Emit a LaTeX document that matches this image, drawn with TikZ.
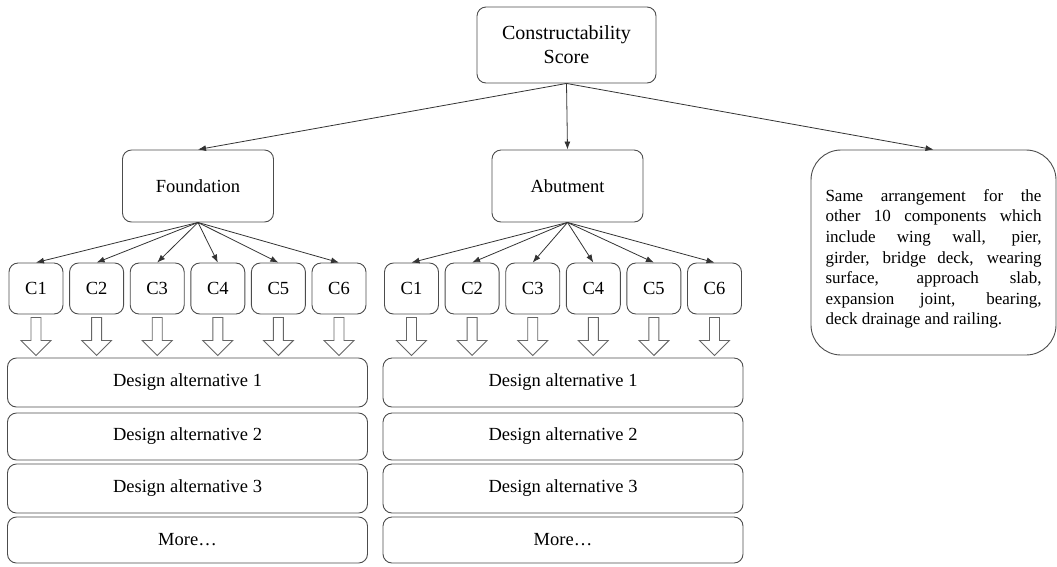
\documentclass[tikz,border=0pt]{standalone}
\usepackage{fontspec}
\setmainfont{Liberation Serif}
\usetikzlibrary{arrows.meta}

\begin{document}
\begin{tikzpicture}[x=1pt,y=1pt,
    box/.style={draw=black!70, line width=0.9pt, rounded corners=9pt, align=center, inner sep=0pt, font=\rmfamily\fontsize{18.5}{22}\selectfont},
    link/.style={draw=black!80, line width=0.8pt, -{Latex[length=8pt,width=6pt]}},
    hollow/.style={draw=black!60, line width=0.9pt, fill=white}]
    \useasboundingbox (0,0) rectangle (1057,-566);
    \node[box, minimum width=179, minimum height=76, font=\rmfamily\fontsize{20}{24}\selectfont] (score) at (566.5,-45) {Constructability\\Score};
    \node[box, minimum width=151, minimum height=72] (found) at (198,-186) {Foundation};
    \node[box, minimum width=151, minimum height=72] (abut) at (567.5,-186) {Abutment};
    \node[box, minimum width=245, minimum height=205, rounded corners=30pt] (other) at (933.5,-252.5) {};
    \node[text width=216, align=justify, inner sep=0pt, font=\rmfamily\fontsize{17}{20.6}\selectfont] (othertext) at (933.5,-259)
      {Same arrangement for the\linebreak other 10 components which\linebreak include wing wall, pier,\linebreak girder, bridge deck, wearing\linebreak surface, approach slab,\linebreak expansion joint, bearing,\linebreak deck drainage and railing.};
    \draw[link] (score.south) -- (found.north);
    \draw[link] (score.south) -- (abut.north);
    \draw[link] (score.south) -- (other.north);
    \foreach \g/\p/\cx in {found/f/187.5, abut/a/563}{
      \foreach \i in {1,...,6}{
        \node[box, minimum width=54, minimum height=51] (c\p\i) at ({\cx+(\i-3.5)*60.6},-288.5) {C\i};
        \draw[link] (\g.south) -- (c\p\i.north);
        \draw[hollow] ([xshift=-5pt,yshift=-3pt]c\p\i.south) -- ++(0,-23) -- ++(-10,0) -- ++(15,-15) -- ++(15,15) -- ++(-10,0) -- ++(0,23) -- cycle;
      }
      \node[box, minimum width=360, minimum height=49] (d\p1) at (\cx,-382.5) {Design alternative 1};
      \node[box, minimum width=360, minimum height=47] (d\p2) at (\cx,-436.5) {Design alternative 2};
      \node[box, minimum width=360, minimum height=49] (d\p3) at (\cx,-488.5) {Design alternative 3};
      \node[box, minimum width=360, minimum height=46] (d\p4) at (\cx,-540) {More…};
    }
\end{tikzpicture}
\end{document}
